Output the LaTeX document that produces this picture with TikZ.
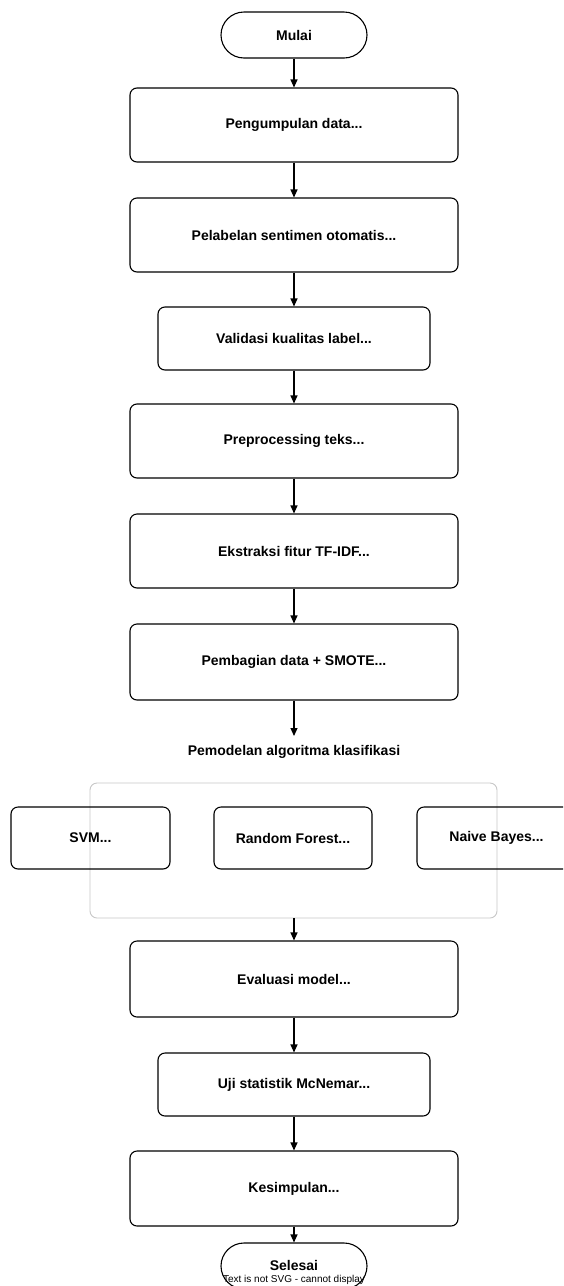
\documentclass[tikz,border=0pt]{standalone}
\usepackage{fontspec}
\setmainfont{Liberation Sans}
\usetikzlibrary{arrows.meta}
\begin{document}
\begin{tikzpicture}[x=1pt,y=-1pt,
  box/.style={draw=black,line width=1.1pt,rounded corners=7pt,inner sep=0pt,font=\bfseries\fontsize{14}{16}\selectfont},
  term/.style={draw=black,line width=1.1pt,rounded corners=23pt,inner sep=0pt,font=\bfseries\fontsize{14}{16}\selectfont},
  grp/.style={draw=black!22,line width=0.9pt,rounded corners=7pt},
  flow/.style={draw=black,line width=1.1pt,-{Triangle[length=8pt,width=7pt]}},
  lbl/.style={font=\bfseries\fontsize{14}{16}\selectfont,inner sep=0pt}]
\useasboundingbox (0,0) rectangle (563,1286);
\clip (0,0) rectangle (563,1286);
\fill[white] (0,0) rectangle (563,1286);
% group container
\draw[grp] (90,783) rectangle (497,918);
\node[lbl] (glabel) at (294,752) {Pemodelan algoritma klasifikasi};
\coordinate (gtop) at (294,736);
\coordinate (gbot) at (294,918);
% nodes
\node[term,minimum width=146pt,minimum height=46pt] (mulai) at (294,35) {Mulai};
\node[box,minimum width=328pt,minimum height=74pt] (b1) at (294,125) {Pengumpulan data...};
\node[box,minimum width=328pt,minimum height=74pt] (b2) at (294,235) {Pelabelan sentimen otomatis...};
\node[box,minimum width=272pt,minimum height=63pt] (b3) at (294,338.5) {Validasi kualitas label...};
\node[box,minimum width=328pt,minimum height=74pt] (b4) at (294,441) {Preprocessing teks...};
\node[box,minimum width=328pt,minimum height=74pt] (b5) at (294,551) {Ekstraksi fitur TF-IDF...};
\node[box,minimum width=328pt,minimum height=76pt] (b6) at (294,662) {Pembagian data + SMOTE...};
\node[box,minimum width=159pt,minimum height=62pt] (svm) at (90.5,838) {SVM...};
\node[box,minimum width=158pt,minimum height=62pt] (rf) at (293,838) {Random Forest...};
\node[box,minimum width=159pt,minimum height=62pt] (nb) at (496.5,838) {Naive Bayes...};
\node[box,minimum width=328pt,minimum height=76pt] (b7) at (294,979) {Evaluasi model...};
\node[box,minimum width=272pt,minimum height=63pt] (b8) at (294,1084.5) {Uji statistik McNemar...};
\node[box,minimum width=328pt,minimum height=75pt] (b9) at (294,1188.5) {Kesimpulan...};
\node[term,minimum width=146pt,minimum height=46pt] (selesai) at (294,1266) {};
\node[lbl] (seltext) at (294,1265) {Selesai};
\node[font=\fontsize{10}{11}\selectfont,inner sep=0pt] (note) at (294,1280) {Text is not SVG - cannot display};
% connectors
\draw[flow] (mulai.south) -- (b1.north);
\draw[flow] (b1.south) -- (b2.north);
\draw[flow] (b2.south) -- (b3.north);
\draw[flow] (b3.south) -- (b4.north);
\draw[flow] (b4.south) -- (b5.north);
\draw[flow] (b5.south) -- (b6.north);
\draw[flow] (b6.south) -- (gtop);
\draw[flow] (gbot) -- (b7.north);
\draw[flow] (b7.south) -- (b8.north);
\draw[flow] (b8.south) -- (b9.north);
\draw[flow] (b9.south) -- (selesai.north);
\end{tikzpicture}
\end{document}
